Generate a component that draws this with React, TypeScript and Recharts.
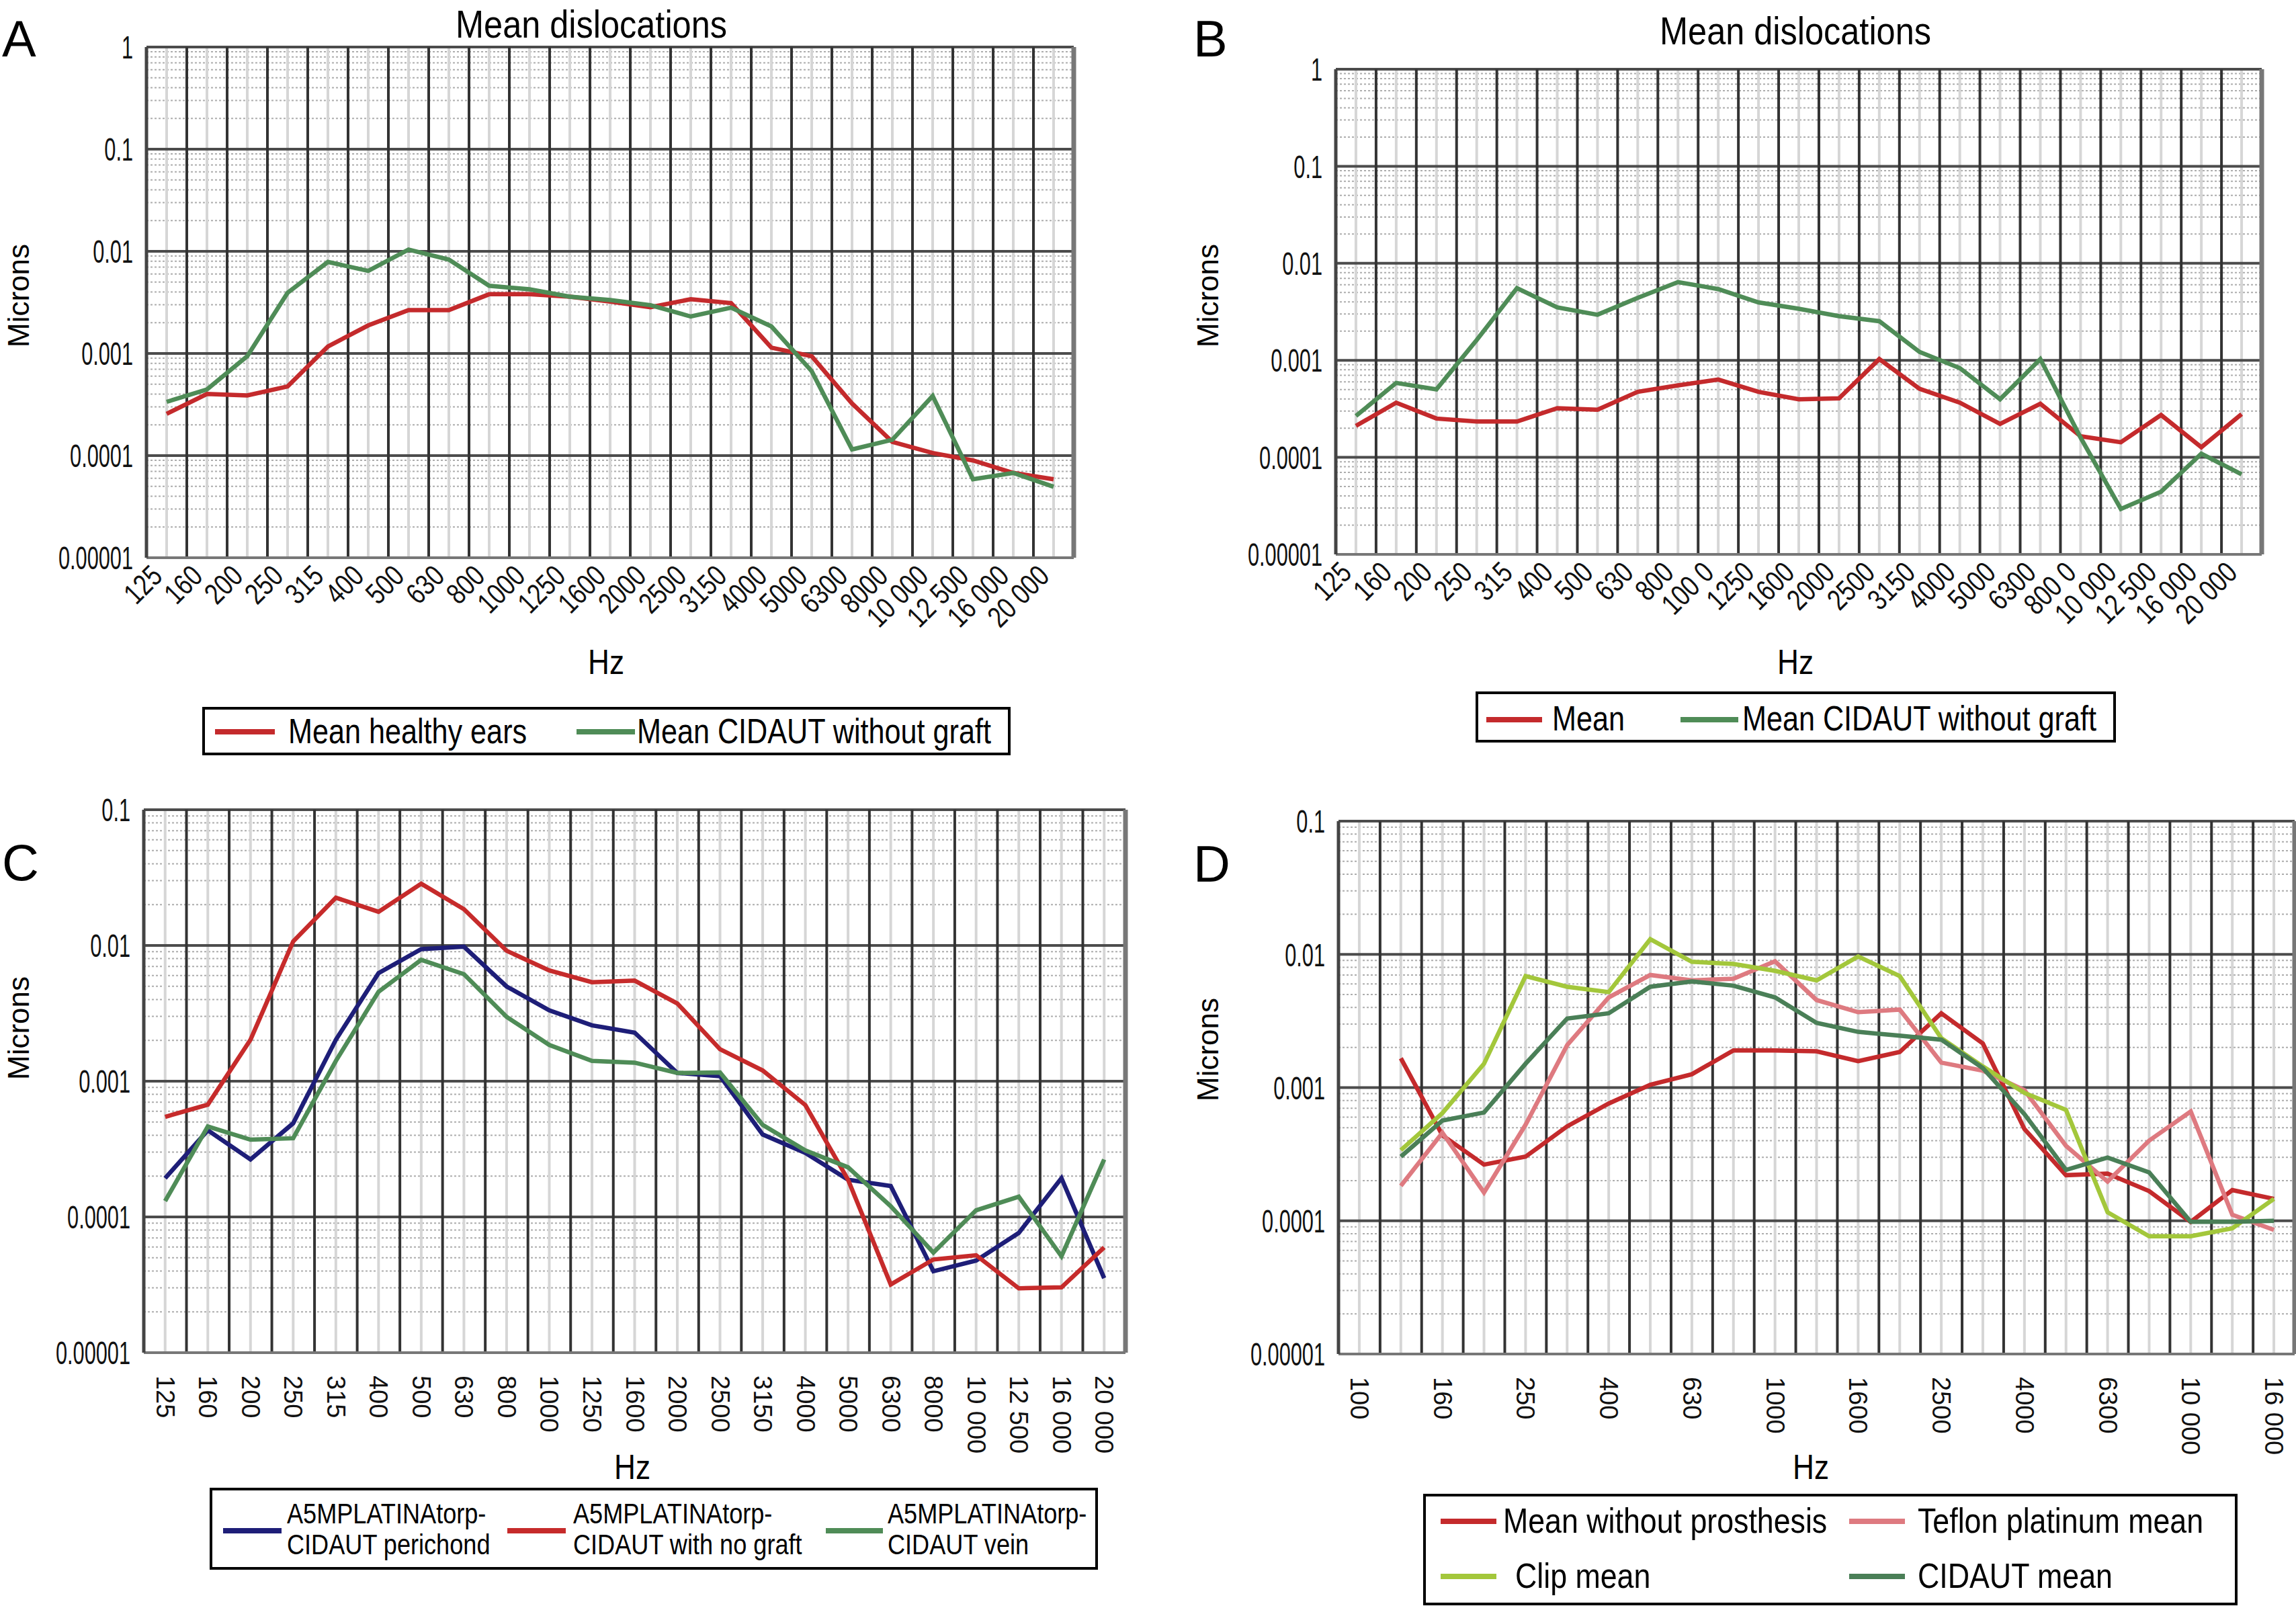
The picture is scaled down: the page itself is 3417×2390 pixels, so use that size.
import React from "react";
import { LineChart, Line, XAxis, YAxis, ReferenceLine, Legend } from "recharts";

const REG = "'Liberation Sans', Arial, Helvetica, sans-serif";

// x categories (Hz)
const hzA = ["125", "160", "200", "250", "315", "400", "500", "630", "800", "1000", "1250", "1600", "2000", "2500", "3150", "4000", "5000", "6300", "8000", "10 000", "12 500", "16 000", "20 000"];
const hzB = ["125", "160", "200", "250", "315", "400", "500", "630", "800", "100 0", "1250", "1600", "2000", "2500", "3150", "4000", "5000", "6300", "800 0", "10 000", "12 500", "16 000", "20 000"];
const hzC = hzA;
const hzD = ["100", "125", "160", "200", "250", "315", "400", "500", "630", "800", "1000", "1250", "1600", "2000", "2500", "3150", "4000", "5000", "6300", "8000", "10 000", "12 500", "16 000"];

// y ticks (microns)
const decades5 = [0.00001, 0.0001, 0.001, 0.01, 0.1, 1];
const decadeLabels5 = ["0.00001", "0.0001", "0.001", "0.01", "0.1", "1"];
const decades4 = [0.00001, 0.0001, 0.001, 0.01, 0.1];
const decadeLabels4 = ["0.00001", "0.0001", "0.001", "0.01", "0.1"];

// panel A
const aHealthy = [0.000256, 0.000401, 0.000388, 0.000475, 0.00117, 0.00188, 0.00266, 0.00266, 0.0038, 0.0038, 0.0036, 0.00322, 0.00284, 0.0034, 0.00311, 0.00114, 0.00094, 0.000324, 0.000136, 0.000106, 0.0000896, 0.0000677, 0.0000586];
const aCidaut = [0.000336, 0.000444, 0.00094, 0.00393, 0.00787, 0.00644, 0.0104, 0.0083, 0.0046, 0.00425, 0.0036, 0.00333, 0.00297, 0.0023, 0.00281, 0.00184, 0.00067, 0.000115, 0.000143, 0.000384, 0.0000586, 0.0000677, 0.0000495];

// panel B
const bMean = [0.000211, 0.000366, 0.000251, 0.000234, 0.000234, 0.000321, 0.00031, 0.000473, 0.000551, 0.000634, 0.000473, 0.000397, 0.000406, 0.00103, 0.000508, 0.000366, 0.000221, 0.000357, 0.000165, 0.000143, 0.000273, 0.000127, 0.000279];
const bCidaut = [0.000267, 0.000585, 0.000502, 0.00162, 0.00555, 0.00351, 0.00295, 0.0044, 0.0064, 0.00542, 0.00395, 0.0034, 0.00285, 0.00253, 0.00122, 0.000832, 0.000397, 0.00103, 0.00016, 0.0000294, 0.0000443, 0.000109, 0.0000668];

// panel C
const cPerichond = [0.000193, 0.000435, 0.000265, 0.00049, 0.00202, 0.00625, 0.0094, 0.0098, 0.00499, 0.00333, 0.00258, 0.00228, 0.00115, 0.00109, 0.000405, 0.000296, 0.000188, 0.000169, 0.0000398, 0.0000477, 0.0000762, 0.000193, 0.0000354];
const cNoGraft = [0.000546, 0.000672, 0.00202, 0.0107, 0.0225, 0.0177, 0.0285, 0.0185, 0.00914, 0.00655, 0.00536, 0.00551, 0.00374, 0.00172, 0.0012, 0.000667, 0.000188, 0.0000318, 0.0000486, 0.0000522, 0.0000298, 0.0000303, 0.0000597];
const cVein = [0.000131, 0.000464, 0.000371, 0.00038, 0.00141, 0.00456, 0.00783, 0.00614, 0.00298, 0.00185, 0.00141, 0.00137, 0.00115, 0.00116, 0.000477, 0.000309, 0.000232, 0.00012, 0.0000546, 0.000112, 0.000141, 0.0000513, 0.000265];

// panel D (starts at 125 Hz)
const dNoProsthesis = [0.00166, 0.000438, 0.000264, 0.000303, 0.000512, 0.000759, 0.00105, 0.00126, 0.0019, 0.0019, 0.00187, 0.00158, 0.00185, 0.00361, 0.00214, 0.000489, 0.00022, 0.000226, 0.000167, 0.0000982, 0.00017, 0.000146];
const dTeflon = [0.000183, 0.000458, 0.000163, 0.000526, 0.00208, 0.00475, 0.007, 0.00638, 0.00656, 0.00887, 0.00454, 0.00368, 0.00385, 0.00154, 0.00134, 0.000955, 0.000365, 0.000197, 0.0004, 0.000662, 0.000111, 0.0000855];
const dClip = [0.000339, 0.000644, 0.00151, 0.00687, 0.00571, 0.00521, 0.013, 0.0088, 0.00848, 0.00752, 0.00638, 0.00964, 0.00687, 0.00235, 0.00144, 0.000912, 0.00068, 0.000116, 0.0000766, 0.0000766, 0.0000879, 0.000146];
const dCidaut = [0.000303, 0.000566, 0.00065, 0.00151, 0.0033, 0.00361, 0.00571, 0.00626, 0.00582, 0.00475, 0.00306, 0.00262, 0.00245, 0.00229, 0.0014, 0.000632, 0.000241, 0.000298, 0.000231, 0.0000982, 0.0000982, 0.0001];

type Ser = { key: string; name: string; color: string; values: number[] };
type Slot = { lx: number; lw: number; ly: number; tx: number; ty: number };

type PanelCfg = {
  left: number; top: number; width: number; height: number;
  margin: { top: number; right: number; bottom: number; left: number };
  yWidth: number; xHeight: number;
  cats: string[]; start: number; tickStep: number; vertical: boolean;
  decades: number[]; decadeLabels: string[];
  series: Ser[]; strokeWidth: number;
  legend: { x: number; y: number; w: number; h: number; fontSize: number; squeeze: number; lineHeight: number; slots: Slot[] };
};

function buildRows(cats: string[], start: number, series: Ser[]) {
  return cats.map((c, i) => {
    const row: Record<string, any> = { i, hz: c };
    series.forEach((s) => {
      const v = s.values[i - start];
      row[s.key] = v === undefined ? null : v;
    });
    return row;
  });
}

function minorValues(decades: number[]) {
  const out: number[] = [];
  for (let d = 0; d < decades.length - 1; d++) {
    for (let k = 2; k <= 9; k++) out.push(decades[d] * k);
  }
  return out;
}

// condensed look: Helvetica-like face squeezed horizontally
function SlantTick(props: any) {
  const { x, y, payload, labels } = props;
  const ax = x - 4;
  const ay = y + 22;
  return (
    <text transform={`translate(${ax} ${ay}) rotate(-45) scale(0.8 1)`} textAnchor="end" fontFamily={REG} fontSize={44} fill="#111">
      {labels[payload.value]}
    </text>
  );
}

function DownTick(props: any) {
  const { x, y, payload, labels } = props;
  const ay = y + 26;
  return (
    <text x={x} y={ay} transform={`rotate(90 ${x} ${ay})`} textAnchor="start" dominantBaseline="central" fontFamily={REG} fontSize={38} fill="#111">
      {labels[payload.value]}
    </text>
  );
}

function YTick(props: any) {
  const { x, y, payload, decades, labels } = props;
  const idx = decades.findIndex((d: number) => Math.abs(d - payload.value) / d < 1e-6);
  return (
    <text transform={`translate(${x} ${y}) scale(0.64 1)`} textAnchor="end" dy="0.36em" fontFamily={REG} fontSize={48} fill="#111">
      {idx >= 0 ? labels[idx] : ""}
    </text>
  );
}

function LegendBox({ payload, cfg, series }: { payload?: any[]; cfg: PanelCfg["legend"]; series: Ser[] }) {
  const items = [...(payload || [])].sort(
    (a, b) => series.findIndex((s) => s.key === a.dataKey) - series.findIndex((s) => s.key === b.dataKey)
  );
  return (
    <div style={{ position: "relative", width: cfg.w, height: cfg.h, border: "4px solid #000", boxSizing: "border-box", background: "#fff" }}>
      {items.map((it, k) => {
        const s = cfg.slots[k];
        if (!s) return null;
        const lines = String(it.value).split("\n");
        return (
          <React.Fragment key={k}>
            <div style={{ position: "absolute", left: s.lx, top: s.ly - 4, width: s.lw, height: 8, background: it.color }} />
            <div
              style={{
                position: "absolute", left: s.tx, top: s.ty, fontFamily: REG, fontSize: cfg.fontSize,
                lineHeight: `${cfg.lineHeight}px`, color: "#000", whiteSpace: "nowrap",
                transform: `scaleX(${cfg.squeeze})`, transformOrigin: "left top",
              }}
            >
              {lines.map((l, j) => <div key={j}>{l}</div>)}
            </div>
          </React.Fragment>
        );
      })}
    </div>
  );
}

function Panel({ cfg }: { cfg: PanelCfg }) {
  const n = cfg.cats.length;
  const rows = buildRows(cfg.cats, cfg.start, cfg.series);
  const ticks: number[] = [];
  for (let i = 0; i < n; i += cfg.tickStep) ticks.push(i);
  const bounds = Array.from({ length: n + 1 }, (_, k) => k - 0.5);
  const centers = Array.from({ length: n }, (_, k) => k);
  const minors = minorValues(cfg.decades);
  const lg = cfg.legend;
  return (
    <div style={{ position: "absolute", left: cfg.left, top: cfg.top }}>
      <LineChart width={cfg.width} height={cfg.height} data={rows} margin={cfg.margin}>
        <XAxis
          type="number"
          dataKey="i"
          domain={[-0.5, n - 0.5]}
          ticks={ticks}
          interval={0}
          tickLine={false}
          axisLine={{ stroke: "#777", strokeWidth: 4 }}
          height={cfg.xHeight}
          tick={(p: any) => (cfg.vertical ? <DownTick {...p} labels={cfg.cats} /> : <SlantTick {...p} labels={cfg.cats} />)}
        />
        <YAxis
          type="number"
          scale="log"
          domain={[cfg.decades[0], cfg.decades[cfg.decades.length - 1]]}
          ticks={cfg.decades}
          interval={0}
          allowDataOverflow
          width={cfg.yWidth}
          tickLine={false}
          tickMargin={14}
          axisLine={{ stroke: "#444", strokeWidth: 5 }}
          tick={(p: any) => <YTick {...p} decades={cfg.decades} labels={cfg.decadeLabels} />}
        />
        {minors.map((v) => (
          <ReferenceLine key={"hm" + v} y={v} stroke="#adadad" strokeWidth={2} strokeDasharray="3 3" />
        ))}
        {centers.map((c) => (
          <ReferenceLine key={"vm" + c} x={c} stroke="#d6d6d6" strokeWidth={4} />
        ))}
        {cfg.decades.map((d) => (
          <ReferenceLine key={"hM" + d} y={d} stroke="#4c4c4c" strokeWidth={4} />
        ))}
        {bounds.map((b) => (
          <ReferenceLine key={"vM" + b} x={b} stroke={b === n - 0.5 ? "#777" : "#333"} strokeWidth={b === n - 0.5 ? 7 : 4} />
        ))}
        {cfg.series.map((s) => (
          <Line
            key={s.key}
            type="linear"
            dataKey={s.key}
            name={s.name}
            stroke={s.color}
            strokeWidth={cfg.strokeWidth}
            dot={false}
            activeDot={false}
            isAnimationActive={false}
          />
        ))}
        <Legend
          layout="horizontal"
          verticalAlign="middle"
          align="center"
          wrapperStyle={{ left: lg.x, top: lg.y, width: lg.w, height: lg.h }}
          content={(p: any) => <LegendBox payload={p.payload} cfg={lg} series={cfg.series} />}
        />
      </LineChart>
    </div>
  );
}

const panelA: PanelCfg = {
  left: 0, top: 0, width: 1700, height: 1150,
  margin: { top: 70, right: 102, bottom: 0, left: 0 },
  yWidth: 218, xHeight: 320,
  cats: hzA, start: 0, tickStep: 1, vertical: false,
  decades: decades5, decadeLabels: decadeLabels5,
  series: [
    { key: "healthy", name: "Mean healthy ears", color: "#c42a2c", values: aHealthy },
    { key: "cidaut", name: "Mean CIDAUT without graft", color: "#4f8c57", values: aCidaut },
  ],
  strokeWidth: 6.5,
  legend: {
    x: 301, y: 1052, w: 1203, h: 72, fontSize: 52, squeeze: 0.83, lineHeight: 60,
    slots: [
      { lx: 15, lw: 89, ly: 33, tx: 124, ty: 2 },
      { lx: 553, lw: 87, ly: 33, tx: 643, ty: 2 },
    ],
  },
};

const panelB: PanelCfg = {
  left: 1700, top: 0, width: 1717, height: 1150,
  margin: { top: 103, right: 51, bottom: 0, left: 0 },
  yWidth: 288, xHeight: 325,
  cats: hzB, start: 0, tickStep: 1, vertical: false,
  decades: decades5, decadeLabels: decadeLabels5,
  series: [
    { key: "mean", name: "Mean", color: "#c42a2c", values: bMean },
    { key: "cidaut", name: "Mean CIDAUT without graft", color: "#4f8c57", values: bCidaut },
  ],
  strokeWidth: 6.5,
  legend: {
    x: 496, y: 1029, w: 953, h: 76, fontSize: 52, squeeze: 0.83, lineHeight: 60,
    slots: [
      { lx: 12, lw: 83, ly: 38, tx: 110, ty: 6 },
      { lx: 301, lw: 86, ly: 38, tx: 393, ty: 6 },
    ],
  },
};

const panelC: PanelCfg = {
  left: 0, top: 1150, width: 1700, height: 1240,
  margin: { top: 55, right: 25, bottom: 0, left: 0 },
  yWidth: 214, xHeight: 377,
  cats: hzC, start: 0, tickStep: 1, vertical: true,
  decades: decades4, decadeLabels: decadeLabels4,
  series: [
    { key: "perichond", name: "A5MPLATINAtorp-\nCIDAUT perichond", color: "#1e1e78", values: cPerichond },
    { key: "nograft", name: "A5MPLATINAtorp-\nCIDAUT with no graft", color: "#c62b2b", values: cNoGraft },
    { key: "vein", name: "A5MPLATINAtorp-\nCIDAUT vein", color: "#4f8c57", values: cVein },
  ],
  strokeWidth: 6.5,
  legend: {
    x: 312, y: 1064, w: 1322, h: 122, fontSize: 42, squeeze: 0.86, lineHeight: 46,
    slots: [
      { lx: 16, lw: 87, ly: 60, tx: 111, ty: 12 },
      { lx: 439, lw: 87, ly: 60, tx: 537, ty: 12 },
      { lx: 913, lw: 85, ly: 60, tx: 1005, ty: 12 },
    ],
  },
};

const panelD: PanelCfg = {
  left: 1700, top: 1150, width: 1717, height: 1240,
  margin: { top: 72, right: 2, bottom: 0, left: 0 },
  yWidth: 292, xHeight: 375,
  cats: hzD, start: 1, tickStep: 2, vertical: true,
  decades: decades4, decadeLabels: decadeLabels4,
  series: [
    { key: "noprost", name: "Mean without prosthesis", color: "#c42a2c", values: dNoProsthesis },
    { key: "teflon", name: "Teflon platinum mean", color: "#de7a80", values: dTeflon },
    { key: "clip", name: "Clip mean", color: "#a3c73b", values: dClip },
    { key: "cidaut", name: "CIDAUT mean", color: "#4a7f57", values: dCidaut },
  ],
  strokeWidth: 6.5,
  legend: {
    x: 418, y: 1073, w: 1212, h: 166, fontSize: 52, squeeze: 0.86, lineHeight: 60,
    slots: [
      { lx: 22, lw: 83, ly: 37, tx: 115, ty: 6 },
      { lx: 630, lw: 83, ly: 37, tx: 732, ty: 6 },
      { lx: 22, lw: 83, ly: 119, tx: 133, ty: 88 },
      { lx: 630, lw: 83, ly: 119, tx: 732, ty: 88 },
    ],
  },
};

const panels = [panelA, panelB, panelC, panelD];

const overlays = [
  { text: "A", x: 3, y: 88, size: 76, squeeze: 1, kind: "letter" },
  { text: "B", x: 1776, y: 88, size: 76, squeeze: 1, kind: "letter" },
  { text: "C", x: 3, y: 1314, size: 76, squeeze: 1, kind: "letter" },
  { text: "D", x: 1776, y: 1316, size: 76, squeeze: 1, kind: "letter" },
  { text: "Mean dislocations", x: 880, y: 36, size: 58, squeeze: 0.87, kind: "center" },
  { text: "Mean dislocations", x: 2672, y: 46, size: 58, squeeze: 0.87, kind: "center" },
  { text: "Microns", x: 28, y: 440, size: 44, squeeze: 1, kind: "vertical" },
  { text: "Microns", x: 1798, y: 440, size: 44, squeeze: 1, kind: "vertical" },
  { text: "Microns", x: 28, y: 1530, size: 44, squeeze: 1, kind: "vertical" },
  { text: "Microns", x: 1798, y: 1562, size: 44, squeeze: 1, kind: "vertical" },
  { text: "Hz", x: 902, y: 985, size: 52, squeeze: 0.85, kind: "center" },
  { text: "Hz", x: 2672, y: 985, size: 52, squeeze: 0.85, kind: "center" },
  { text: "Hz", x: 941, y: 2183, size: 52, squeeze: 0.85, kind: "center" },
  { text: "Hz", x: 2695, y: 2183, size: 52, squeeze: 0.85, kind: "center" },
];

export default function App() {
  return (
    <div style={{ position: "absolute", left: 0, top: 0, width: 3417, height: 2390, background: "#fff", overflow: "hidden" }}>
      {panels.map((p, k) => (
        <Panel key={k} cfg={p} />
      ))}
      {overlays.map((o, k) => {
        const base: React.CSSProperties = { position: "absolute", fontFamily: REG, fontSize: o.size, color: "#000", whiteSpace: "nowrap", lineHeight: 1 };
        if (o.kind === "letter") {
          return <div key={k} style={{ ...base, left: o.x, top: o.y - o.size * 0.9 }}>{o.text}</div>;
        }
        if (o.kind === "vertical") {
          return <div key={k} style={{ ...base, left: o.x, top: o.y, transform: "translate(-50%, -50%) rotate(-90deg)" }}>{o.text}</div>;
        }
        return <div key={k} style={{ ...base, left: o.x, top: o.y, transform: `translate(-50%, -50%) scaleX(${o.squeeze})` }}>{o.text}</div>;
      })}
    </div>
  );
}
